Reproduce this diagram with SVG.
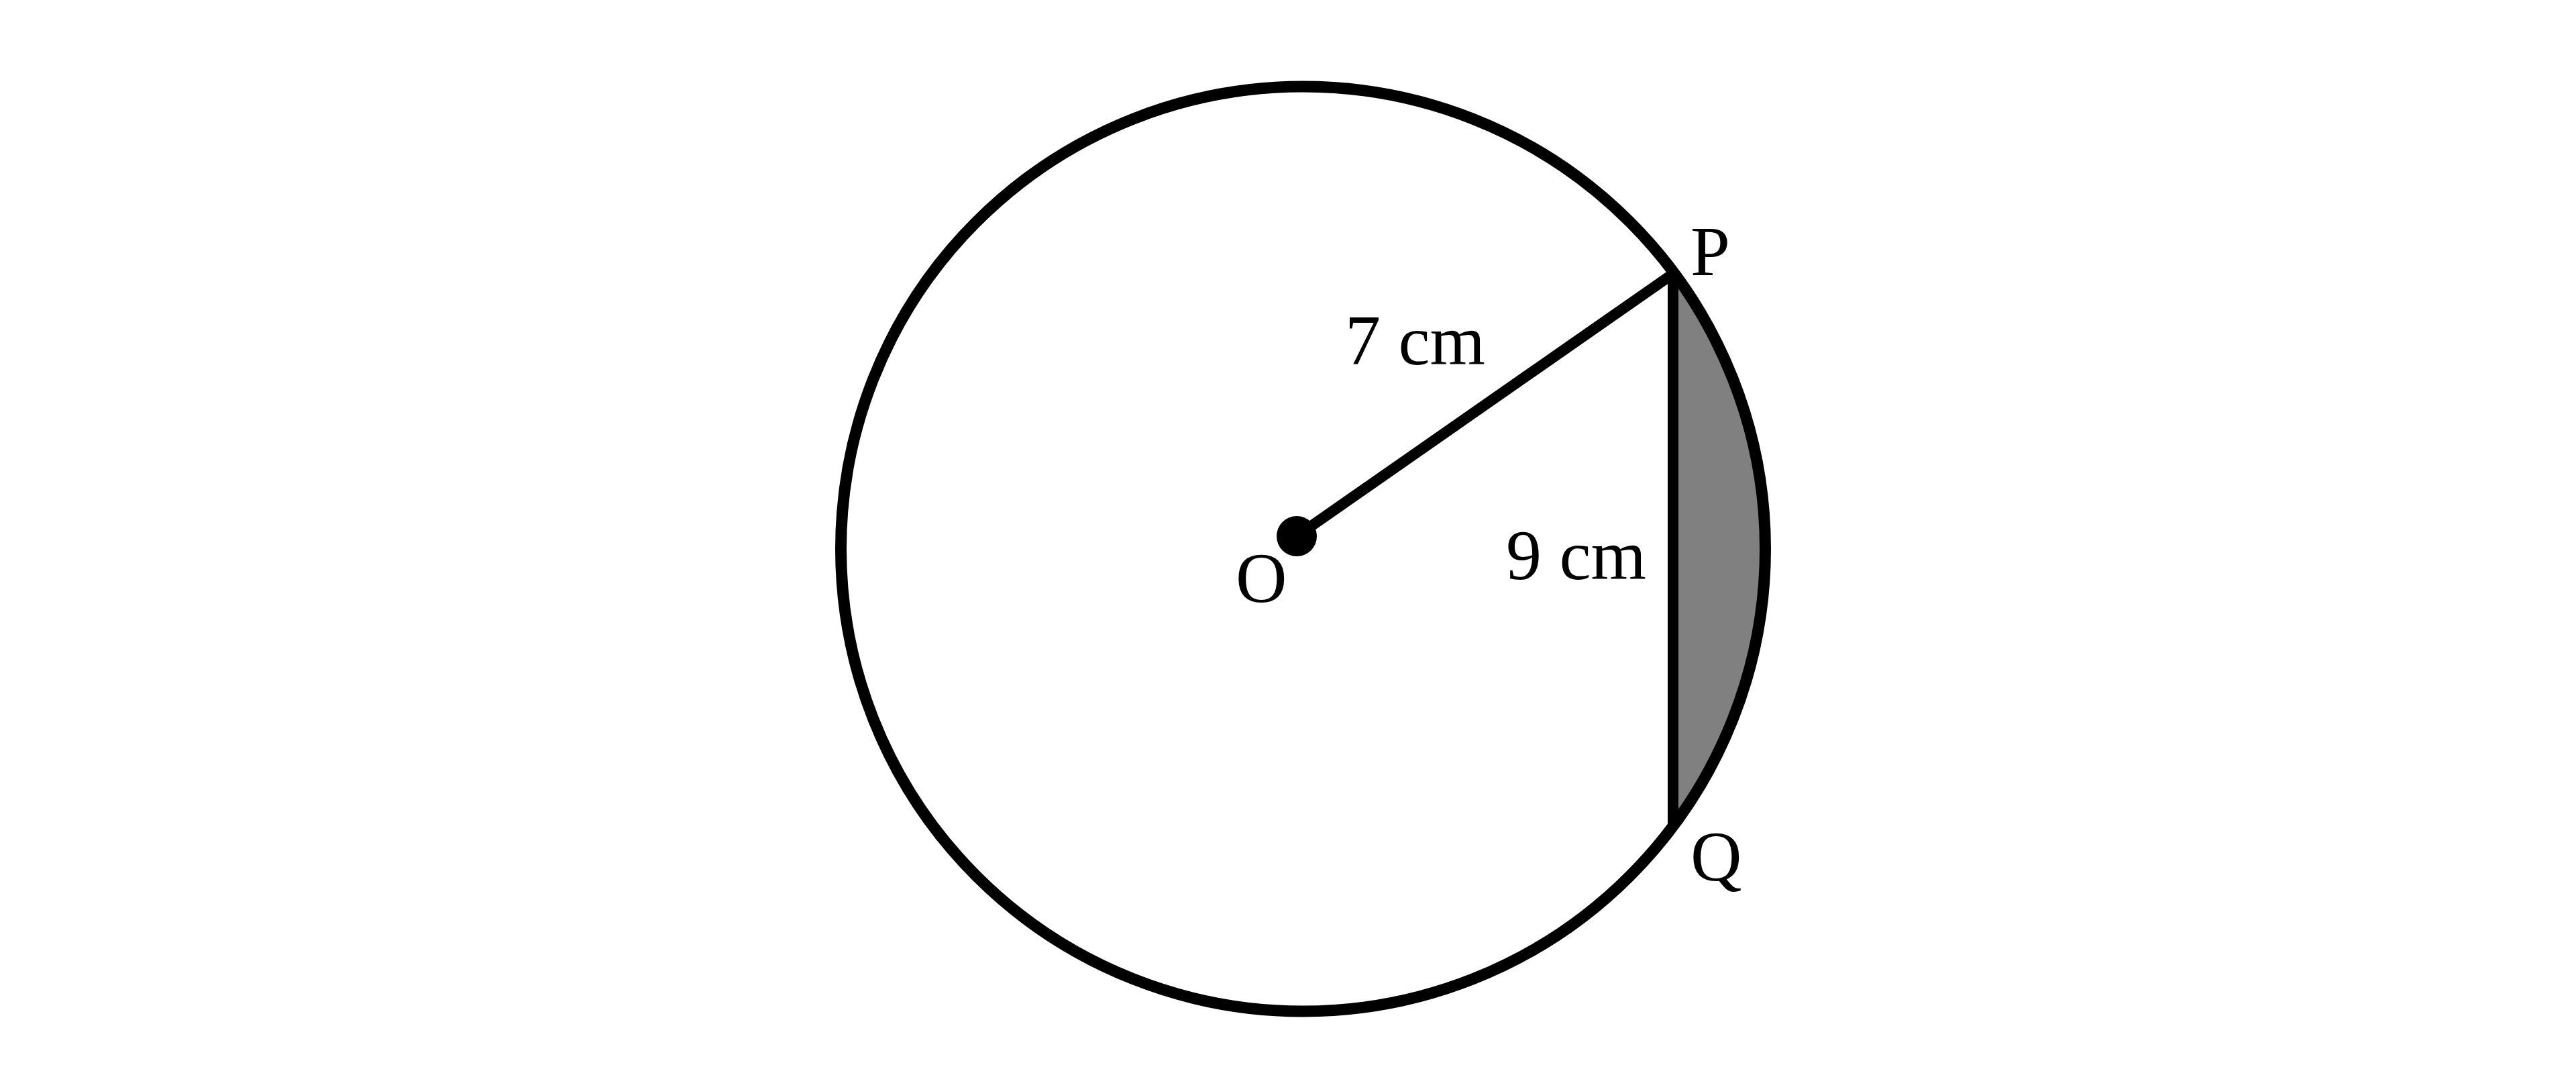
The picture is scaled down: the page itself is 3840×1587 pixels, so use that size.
<svg xmlns="http://www.w3.org/2000/svg" width="3840" height="1587" viewBox="0 0 3840 1587">
<style>
.ln{stroke:#000;stroke-width:15;fill:none;stroke-linecap:round;stroke-linejoin:round}
.lbl{font-family:"Liberation Serif","DejaVu Serif",serif;font-size:106px;fill:#000}
</style>
<rect width="3840" height="1587" fill="#fff"/>
<g id="segment">
<path d="M2494,405 A689,689 0 0 1 2494,1231 Z" fill="#808080"/>
</g>
<g id="circle">
<circle cx="1942.5" cy="818" r="689" class="ln" style="stroke-width:17"/>
</g>
<g id="connectors">
<line x1="1933" y1="799" x2="2494" y2="408" class="ln" style="stroke-width:16"/>
<line x1="2494" y1="408" x2="2494" y2="1229" class="ln" style="stroke-width:16"/>
</g>
<g id="O">
<circle cx="1933" cy="799" r="30" fill="#000"/>
<text x="1842" y="897" class="lbl">O</text>
</g>
<g id="P">
<text x="2520" y="410" class="lbl">P</text>
</g>
<g id="Q">
<text x="2520" y="1312" class="lbl">Q</text>
</g>
<g id="labels">
<text x="2005" y="543" class="lbl">7 cm</text>
<text x="2245" y="863" class="lbl">9 cm</text>
</g>
</svg>
